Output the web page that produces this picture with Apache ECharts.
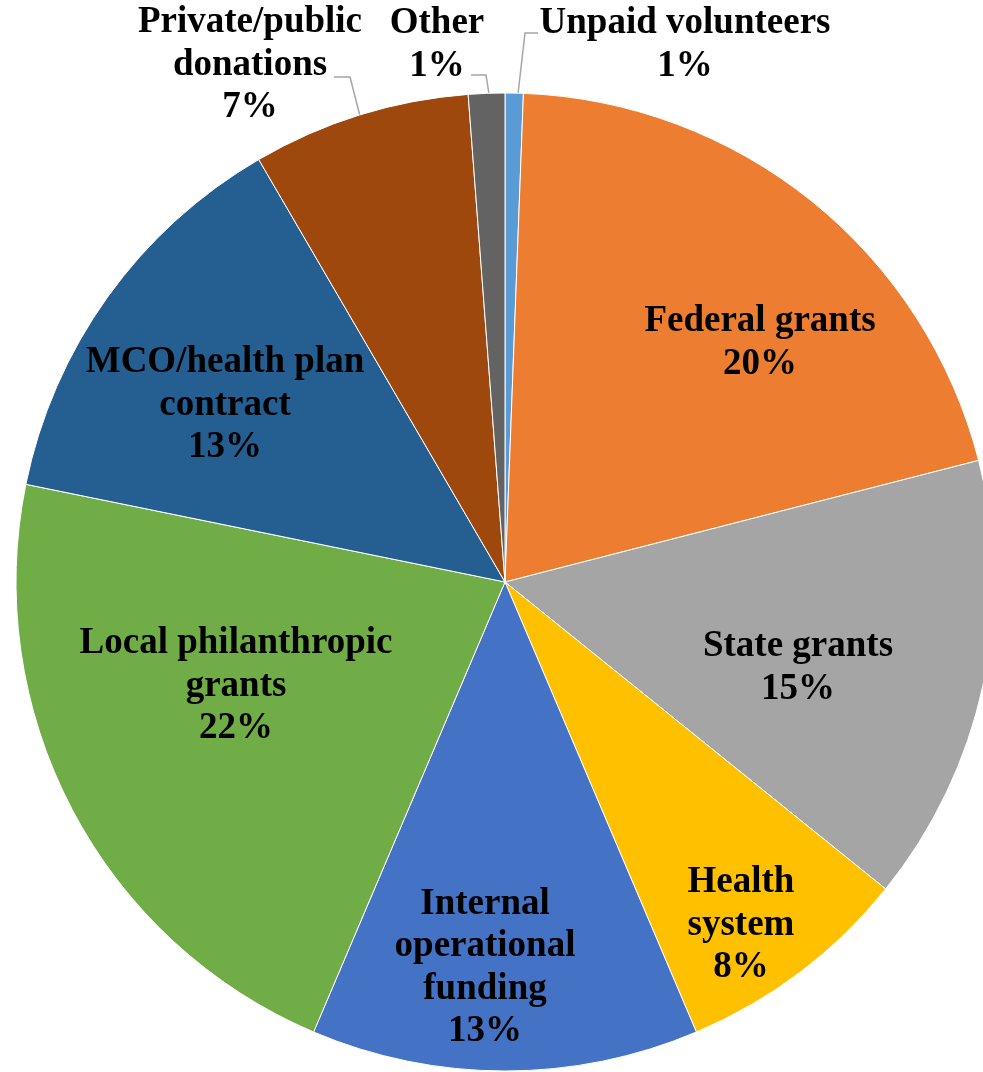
<!DOCTYPE html>
<html>
<head>
<meta charset="utf-8">
<script src="https://cdn.jsdelivr.net/npm/echarts@6/dist/echarts.min.js"></script>
<style>
html,body{margin:0;padding:0;background:#fff;}
#chart{width:983px;height:1072px;}
</style>
</head>
<body>
<div id="chart"></div>
<script>
// ---- data ----
const categories = ['Unpaid volunteers','Federal grants','State grants','Health system','Internal operational funding','Local philanthropic grants','MCO/health plan contract','Private/public donations','Other'];
const labelText = ['Unpaid volunteers','Federal grants','State grants','Health\nsystem','Internal\noperational\nfunding','Local philanthropic\ngrants','MCO/health plan\ncontract','Private/public\ndonations','Other'];
const values = [0.6, 20.4, 14.8, 7.8, 12.8, 21.8, 13.4, 7.2, 1.2];

// ---- style / layout ----
const colors = ['#5B9BD5','#ED7D31','#A5A5A5','#FFC000','#4472C4','#70AD47','#255E91','#9E480E','#636363'];
const outsideIdx = [0, 7, 8];
const labelPos = [[685,45],[760,343],[798,668],[741,925],[485,968],[236,686],[225,405],[250,65],[437,45]];
const leaderPts = {
  0: [[518,94],[525,33],[538,33]],
  7: [[360,116],[350,77],[334,77]],
  8: [[489,94],[486,75],[471,75]]
};

const chart = echarts.init(document.getElementById('chart'), null, {renderer:'canvas'});
const data = categories.map((c, i) => ({
  name: c,
  value: values[i],
  itemStyle: {color: colors[i]},
  label: {position: outsideIdx.includes(i) ? 'outside' : 'inside'},
  labelLine: {show: outsideIdx.includes(i)}
}));

chart.setOption({
  backgroundColor: '#fff',
  animation: false,
  series: [{
    type: 'pie',
    center: [505, 582],
    radius: 489,
    startAngle: 90,
    clockwise: true,
    avoidLabelOverlap: false,
    data: data,
    itemStyle: {borderColor: '#ffffff', borderWidth: 1},
    label: {
      show: true,
      color: '#000',
      fontFamily: 'Liberation Serif',
      fontWeight: 'bold',
      fontSize: 37,
      lineHeight: 42.5,
      align: 'center',
      overflow: 'none',
      formatter: p => labelText[p.dataIndex] + '\n' + Math.round(p.percent) + '%'
    },
    labelLine: {
      lineStyle: {color: '#A6A6A6', width: 1.5}
    },
    labelLayout: function (p) {
      const pos = labelPos[p.dataIndex];
      const o = {x: pos[0], y: pos[1], align: 'center', verticalAlign: 'middle', moveOverlap: null, hideOverlap: false};
      if (leaderPts[p.dataIndex]) o.labelLinePoints = leaderPts[p.dataIndex];
      return o;
    }
  }]
});
</script>
</body>
</html>
